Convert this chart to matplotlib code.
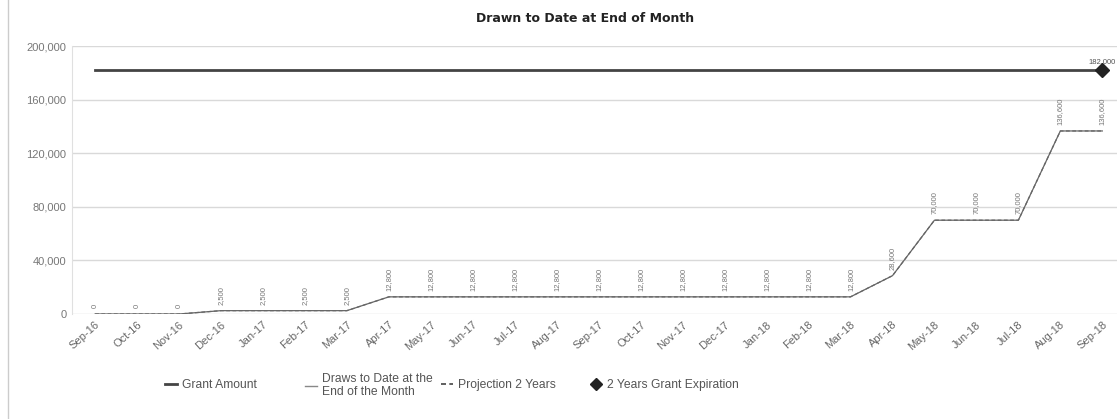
import matplotlib
matplotlib.use("Agg")
import matplotlib.pyplot as plt
from matplotlib.lines import Line2D
from matplotlib.patches import Rectangle

font = "Liberation Sans"

months = ["Sep-16", "Oct-16", "Nov-16", "Dec-16", "Jan-17", "Feb-17", "Mar-17",
          "Apr-17", "May-17", "Jun-17", "Jul-17", "Aug-17", "Sep-17", "Oct-17",
          "Nov-17", "Dec-17", "Jan-18", "Feb-18", "Mar-18", "Apr-18", "May-18",
          "Jun-18", "Jul-18", "Aug-18", "Sep-18"]
draws = [0, 0, 0, 2500, 2500, 2500, 2500,
         12800, 12800, 12800, 12800, 12800, 12800, 12800,
         12800, 12800, 12800, 12800, 12800, 28600, 70000,
         70000, 70000, 136600, 136600]
grant_amount = 182000
expiration_value = 182000
yticks = [0, 40000, 80000, 120000, 160000, 200000]

fig = plt.figure(figsize=(11.17, 4.19), dpi=100)
fig.patches.append(Rectangle((0.007, -0.01), 1.2, 1.2, transform=fig.transFigure,
                             fill=False, edgecolor="#cccccc", linewidth=1))
ax = fig.add_axes([0.0645, 0.2506, 0.9355, 0.6396])

x = list(range(len(months)))
ax.plot(x, [grant_amount] * len(x), color="#444444", linewidth=2, zorder=3)
ax.plot(x, draws, color="#666666", linewidth=0.9, zorder=3)
ax.plot(x, draws, color="#666666", linewidth=0.9, linestyle=(0, (3, 2)), zorder=3)
ax.plot([x[-1]], [expiration_value], marker="D", color="#222222", markersize=7,
        linestyle="none", zorder=4)

for xi, v in zip(x, draws):
    ax.text(xi, v + 4500, f"{v:,}", rotation=90, fontsize=5.5, color="#777777",
            ha="center", va="bottom", family=font)
ax.text(x[-1], expiration_value + 3500, f"{expiration_value:,}", fontsize=5.5,
        color="#555555", ha="center", va="bottom", family=font)

ax.set_xlim(-0.55, 24.35)
ax.set_ylim(0, 200000)
ax.set_yticks(yticks)
ax.set_yticklabels([f"{t:,}" for t in yticks], fontsize=8, color="#777777",
                   family=font)
ax.set_xticks(x)
ax.set_xticklabels(months, rotation=42, ha="right", rotation_mode="anchor",
                   fontsize=8, color="#666666", family=font)
ax.tick_params(axis="both", length=0, pad=4)
ax.grid(axis="y", color="#d9d9d9", linewidth=1)
ax.set_axisbelow(True)
for s in ["top", "right", "bottom"]:
    ax.spines[s].set_visible(False)
ax.spines["left"].set_color("#e0e0e0")

fig.text(0.524, 0.955, "Drawn to Date at End of Month", ha="center", va="center",
         fontsize=9, fontweight="bold", color="#222222")

handles = [
    Line2D([], [], color="#444444", linewidth=2),
    Line2D([], [], color="#888888", linewidth=1),
    Line2D([], [], color="#444444", linewidth=1.2, linestyle=(0, (3, 2))),
    Line2D([], [], color="#222222", marker="D", markersize=6, linestyle="none"),
]
labels = ["Grant Amount", "Draws to Date at the\nEnd of the Month",
          "Projection 2 Years", "2 Years Grant Expiration"]
lx = [0.1477, 0.273, 0.395, 0.528]
for h, lab, xx in zip(handles, labels, lx):
    fig.legend([h], [lab], loc="center left", bbox_to_anchor=(xx, 0.08),
               frameon=False, prop={"family": font, "size": 8.7},
               labelcolor="#555555", handlelength=1.0, handletextpad=0.4,
               borderpad=0, borderaxespad=0)

fig.savefig("out.png", dpi=100)
